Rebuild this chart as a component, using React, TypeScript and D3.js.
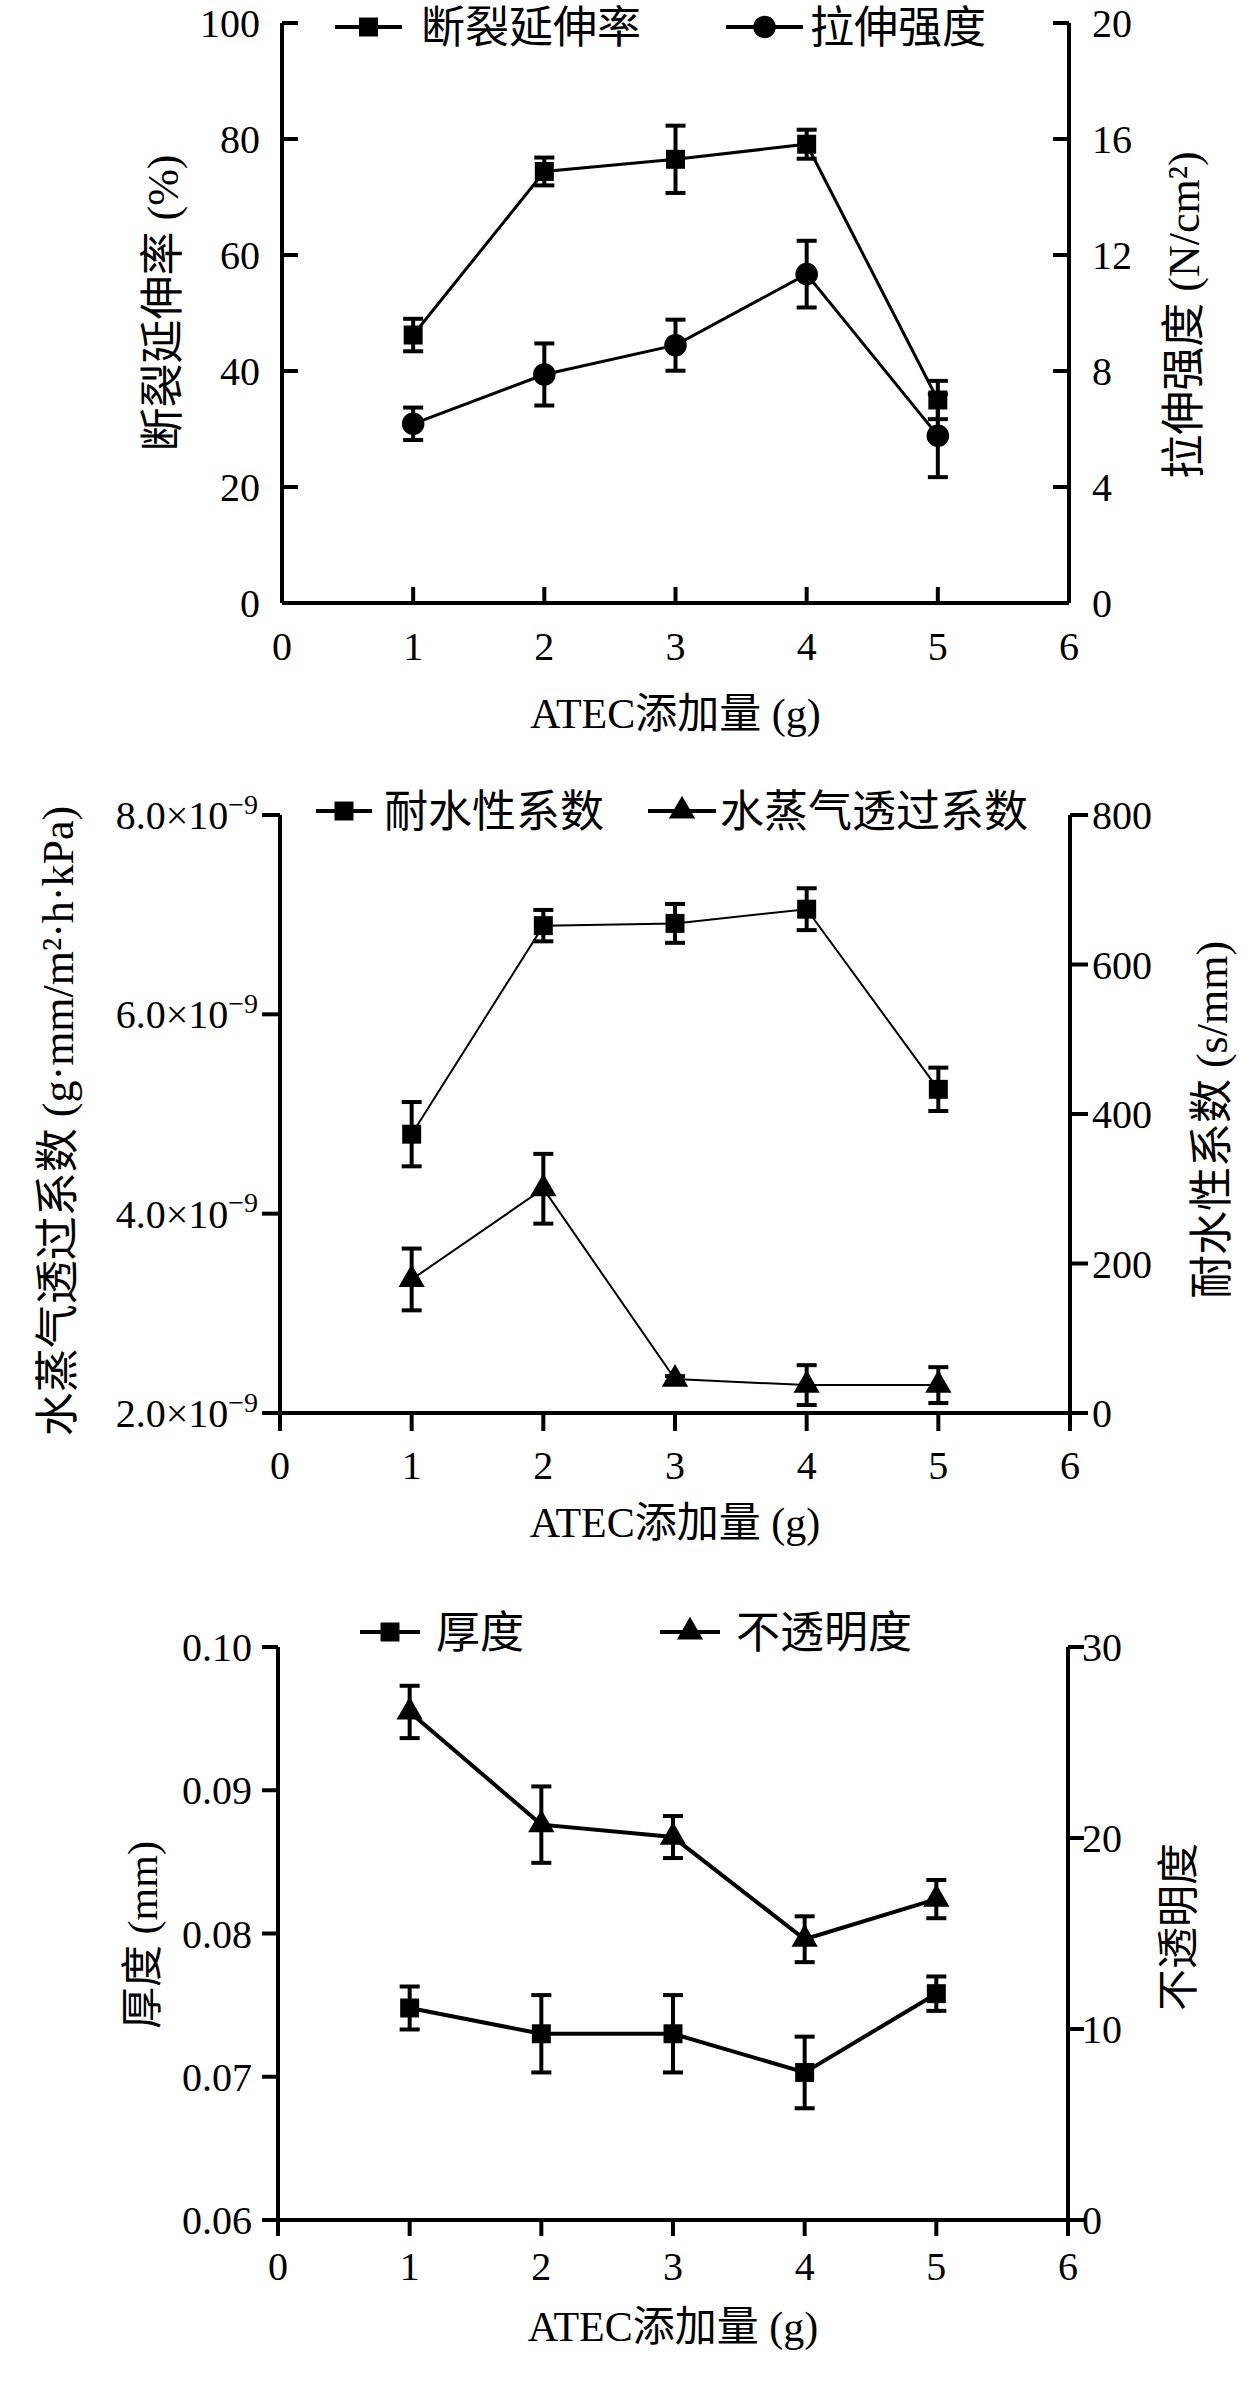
import React from "react";
import * as d3 from "d3";

const FONT = "'Liberation Serif','Times New Roman','Noto Sans CJK SC',serif";

const doses = [1, 2, 3, 4, 5];
const xTicks = [0, 1, 2, 3, 4, 5, 6];

// panel 1
const elongation = [46.2, 74.4, 76.5, 79.1, 35.0];
const elongationErr = [2.8, 2.4, 5.8, 2.5, 3.3];
const tensile = [6.18, 7.88, 8.89, 11.34, 5.77];
const tensileErr = [0.56, 1.07, 0.88, 1.15, 1.43];
const p1LeftTicks = [0, 20, 40, 60, 80, 100];
const p1RightTicks = [0, 4, 8, 12, 16, 20];

// panel 2
const waterRes = [373, 652, 655, 674, 433];
const waterResErr = [43, 21, 26, 28, 29];
const wvp = [3.34e-9, 4.25e-9, 2.34e-9, 2.28e-9, 2.28e-9];
const wvpErr = [0.31e-9, 0.35e-9, 0.03e-9, 0.2e-9, 0.18e-9];
const p2LeftTicks = [2e-9, 4e-9, 6e-9, 8e-9];
const p2RightTicks = [0, 200, 400, 600, 800];

// panel 3
const thickness = [0.0748, 0.073, 0.073, 0.0703, 0.0758];
const thicknessErr = [0.0015, 0.0027, 0.0027, 0.0025, 0.0012];
const opacity = [26.6, 20.7, 20.05, 14.7, 16.8];
const opacityErr = [1.37, 2.0, 1.1, 1.2, 1.0];
const p3LeftTicks = [0.06, 0.07, 0.08, 0.09, 0.1];
const p3RightTicks = [0, 10, 20, 30];

const sym = (type: string, size: number) => {
  const t = type === "square" ? d3.symbolSquare : type === "circle" ? d3.symbolCircle : d3.symbolTriangle;
  return d3.symbol().type(t).size(size)() as string;
};
const symSize: any = { square: 360, circle: 400, triangle: 300 };

function Panel(props: any) {
  const c = props.cfg;
  const x = d3.scaleLinear().domain([0, 6]).range([c.left, c.right]);
  const yL = d3.scaleLinear().domain(c.leftDomain).range([c.bottom, c.top]);
  const yR = d3.scaleLinear().domain(c.rightDomain).range([c.bottom, c.top]);
  const dir = c.tickIn ? 1 : -1;
  const tl = c.tickLen;

  return (
    <g fontFamily={FONT} fill="#000">
      {/* axes */}
      <line x1={c.left} x2={c.right} y1={c.bottom} y2={c.bottom} stroke="#000" strokeWidth={4} />
      <line x1={c.left} x2={c.left} y1={c.top} y2={c.bottom} stroke="#000" strokeWidth={4} />
      <line x1={c.right} x2={c.right} y1={c.top} y2={c.bottom} stroke="#000" strokeWidth={4} />
      {xTicks.map((t) => (
        <g key={"x" + t}>
          <line x1={x(t)} x2={x(t)} y1={c.bottom} y2={c.bottom - dir * tl} stroke="#000" strokeWidth={4} />
          <text x={x(t)} y={c.xLabelY} dy="0.35em" textAnchor="middle" fontSize={40}>{t}</text>
        </g>
      ))}
      {c.leftTicks.map((t: number) => (
        <g key={"l" + t}>
          <line x1={c.left} x2={c.left + dir * tl} y1={yL(t)} y2={yL(t)} stroke="#000" strokeWidth={4} />
          {c.leftFmt(t, c.leftLabelX, yL(t))}
        </g>
      ))}
      {c.rightTicks.map((t: number) => (
        <g key={"r" + t}>
          <line x1={c.right} x2={c.right - dir * tl} y1={yR(t)} y2={yR(t)} stroke="#000" strokeWidth={4} />
          <text x={c.rightLabelX} y={yR(t)} dy="0.35em" textAnchor="start" fontSize={40}>{t}</text>
        </g>
      ))}
      {/* titles */}
      <text x={(c.left + c.right) / 2} y={c.xTitleY} dy="0.35em" textAnchor="middle" fontSize={42}>ATEC添加量 (g)</text>
      <text transform={`translate(${c.leftTitle[0]},${c.leftTitle[1]}) rotate(-90)`} dy="0.35em" textAnchor="middle" fontSize={c.titleSize}>{c.leftTitleText}</text>
      <text transform={`translate(${c.rightTitle[0]},${c.rightTitle[1]}) rotate(-90)`} dy="0.35em" textAnchor="middle" fontSize={c.titleSize}>{c.rightTitleText}</text>
      {/* series */}
      {c.series.map((s: any, i: number) => {
        const y = s.axis === "left" ? yL : yR;
        const line = d3.line<number>().x((_, j) => x(doses[j])).y((v) => y(v));
        return (
          <g key={"s" + i}>
            <path d={line(s.values) as string} fill="none" stroke="#000" strokeWidth={c.lineWidth} />
            {s.values.map((v: number, j: number) => (
              <g key={j} stroke="#000" strokeWidth={4}>
                <line x1={x(doses[j])} x2={x(doses[j])} y1={y(v - s.errs[j])} y2={y(v + s.errs[j])} />
                <line x1={x(doses[j]) - 10} x2={x(doses[j]) + 10} y1={y(v + s.errs[j])} y2={y(v + s.errs[j])} />
                <line x1={x(doses[j]) - 10} x2={x(doses[j]) + 10} y1={y(v - s.errs[j])} y2={y(v - s.errs[j])} />
              </g>
            ))}
            {s.values.map((v: number, j: number) => (
              <path key={"m" + j} d={sym(s.symbol, symSize[s.symbol])} transform={`translate(${x(doses[j])},${y(v)})`} fill="#000" />
            ))}
          </g>
        );
      })}
      {/* legend */}
      {c.legend.map((l: any, i: number) => (
        <g key={"lg" + i}>
          <line x1={l.x1} x2={l.x2} y1={c.legendY} y2={c.legendY} stroke="#000" strokeWidth={4} />
          <path d={sym(l.symbol, symSize[l.symbol])} transform={`translate(${(l.x1 + l.x2) / 2},${c.legendY})`} fill="#000" />
          <text x={l.tx} y={c.legendY} dy="0.36em" fontSize={44}>{l.text}</text>
        </g>
      ))}
    </g>
  );
}

const plainLeft = (fmt: (v: number) => string) => (t: number, lx: number, y: number) => (
  <text x={lx} y={y} dy="0.35em" textAnchor="end" fontSize={40}>{fmt(t)}</text>
);
const sciLeft = (t: number, lx: number, y: number) => (
  <text x={lx} y={y} dy="0.35em" textAnchor="end" fontSize={40}>
    {d3.format(".1f")(t * 1e9)}×10<tspan dy="-0.55em" fontSize={28}>−9</tspan>
  </text>
);

const panel1 = {
  top: 23, bottom: 603, left: 282, right: 1069, tickIn: true, tickLen: 16,
  leftDomain: [0, 100], rightDomain: [0, 20],
  leftTicks: p1LeftTicks, rightTicks: p1RightTicks,
  leftFmt: plainLeft((v) => String(v)), leftLabelX: 260, rightLabelX: 1092,
  xLabelY: 646, xTitleY: 713, titleSize: 44,
  leftTitle: [163, 303], leftTitleText: "断裂延伸率 (%)",
  rightTitle: [1184, 315], rightTitleText: "拉伸强度 (N/cm²)",
  lineWidth: 3,
  series: [
    { values: elongation, errs: elongationErr, axis: "left", symbol: "square" },
    { values: tensile, errs: tensileErr, axis: "right", symbol: "circle" },
  ],
  legendY: 27,
  legend: [
    { x1: 335, x2: 402, tx: 421, text: "断裂延伸率", symbol: "square" },
    { x1: 726, x2: 803, tx: 810, text: "拉伸强度", symbol: "circle" },
  ],
};

const panel2 = {
  top: 815, bottom: 1413, left: 280, right: 1070, tickIn: false, tickLen: 18,
  leftDomain: [2e-9, 8e-9], rightDomain: [0, 800],
  leftTicks: p2LeftTicks, rightTicks: p2RightTicks,
  leftFmt: sciLeft, leftLabelX: 258, rightLabelX: 1092,
  xLabelY: 1465, xTitleY: 1522, titleSize: 44,
  leftTitle: [58, 1121], leftTitleText: "水蒸气透过系数 (g·mm/m²·h·kPa)",
  rightTitle: [1212, 1120], rightTitleText: "耐水性系数 (s/mm)",
  lineWidth: 2,
  series: [
    { values: waterRes, errs: waterResErr, axis: "right", symbol: "square" },
    { values: wvp, errs: wvpErr, axis: "left", symbol: "triangle" },
  ],
  legendY: 811,
  legend: [
    { x1: 316, x2: 372, tx: 384, text: "耐水性系数", symbol: "square" },
    { x1: 648, x2: 716, tx: 720, text: "水蒸气透过系数", symbol: "triangle" },
  ],
};

const panel3 = {
  top: 1647, bottom: 2220, left: 278, right: 1068, tickIn: false, tickLen: 16,
  leftDomain: [0.06, 0.1], rightDomain: [0, 30],
  leftTicks: p3LeftTicks, rightTicks: p3RightTicks,
  leftFmt: plainLeft(d3.format(".2f")), leftLabelX: 252, rightLabelX: 1082,
  xLabelY: 2266, xTitleY: 2326, titleSize: 42,
  leftTitle: [142, 1935], leftTitleText: "厚度 (mm)",
  rightTitle: [1178, 1927], rightTitleText: "不透明度",
  lineWidth: 4,
  series: [
    { values: thickness, errs: thicknessErr, axis: "left", symbol: "square" },
    { values: opacity, errs: opacityErr, axis: "right", symbol: "triangle" },
  ],
  legendY: 1632,
  legend: [
    { x1: 360, x2: 420, tx: 436, text: "厚度", symbol: "square" },
    { x1: 660, x2: 720, tx: 736, text: "不透明度", symbol: "triangle" },
  ],
};

export default function App() {
  return (
    <svg width={1260} height={2387} style={{ position: "absolute", left: 0, top: 0, background: "#fff" }}>
      <rect width={1260} height={2387} fill="#fff" />
      <Panel cfg={panel1} />
      <Panel cfg={panel2} />
      <Panel cfg={panel3} />
    </svg>
  );
}
